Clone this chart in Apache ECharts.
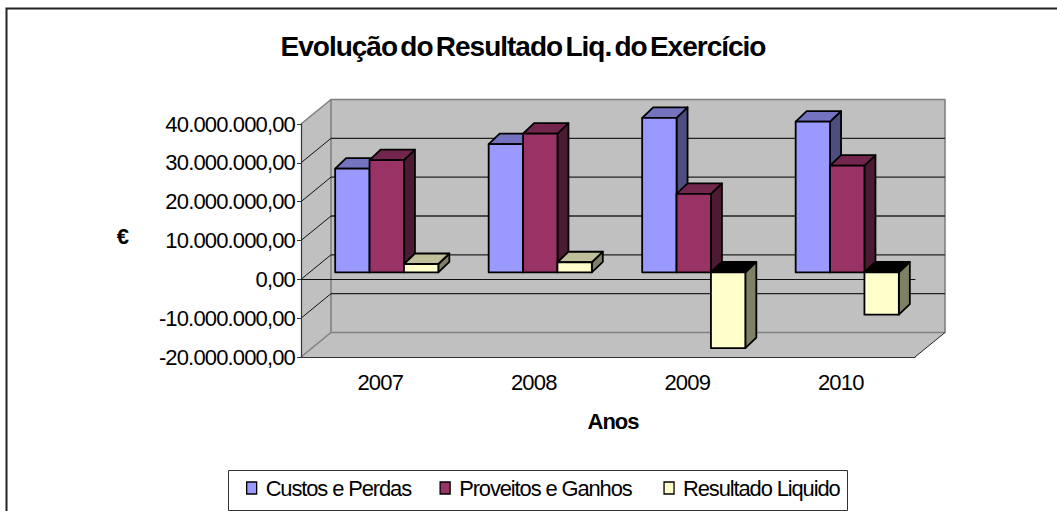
<!DOCTYPE html>
<html><head><meta charset="utf-8">
<style>
html,body{margin:0;padding:0;background:#fff;overflow:hidden}
#chart{width:1057px;height:511px}
#chart text{letter-spacing:-0.85px}
#chart text[style*="21.9px"]{letter-spacing:-1.1px}
#chart text[style*="bold"]{letter-spacing:-1px;word-spacing:-3.5px}
</style>
<script src="https://cdn.jsdelivr.net/npm/echarts@6/dist/echarts.min.js"></script>
</head><body><div id="chart"></div>
<script>
const categories = ['2007','2008','2009','2010'];
const custosPerdas = [26700000,33000000,39800000,38800000];
const proveitosGanhos = [28900000,35700000,20200000,27500000];
const resultadoLiquido = [2150000,2600000,-19500000,-10900000];
const yTicks = [-20000000,-10000000,0,10000000,20000000,30000000,40000000];
const yTickLabels = ['-20.000.000,00','-10.000.000,00','0,00','10.000.000,00','20.000.000,00','30.000.000,00','40.000.000,00'];
const seriesNames = ['Custos e Perdas','Proveitos e Ganhos','Resultado Liquido'];

const FONT = '"Liberation Sans", Arial, sans-serif';
const WALL = [30,-24.5], BAR = [11,-10.5], LIFT = [9,-7], BAR_RATIO = 0.224;
const palettes = [
  {front:'#9999FF',side:'#4D4D80',top:'#7373BF',under:'#000000'},
  {front:'#993366',side:'#4D1A33',top:'#73264D',under:'#000000'},
  {front:'#FFFFCC',side:'#808066',top:'#BFBF99',under:'#000000'}
];
function poly(points,fill,stroke,lw){
  return {type:'polygon',shape:{points},style:{fill,stroke,lineWidth:lw,lineJoin:'round'},silent:true};
}
function seg(a,b,stroke,lw){
  return {type:'line',shape:{x1:a[0],y1:a[1],x2:b[0],y2:b[1]},style:{stroke,lineWidth:lw},silent:true};
}
function shift(p,d){return [p[0]+d[0],p[1]+d[1]];}

function renderWalls(params,api){
  const band = api.size([1,0])[0];
  const n = categories.length;
  const edges = v => [
    [api.coord([0,v])[0]-band/2, api.coord([0,v])[1]],
    [api.coord([n-1,v])[0]+band/2, api.coord([0,v])[1]]
  ];
  const v = api.value(0);
  const [l,r] = edges(v);
  const kids = [];
  if(params.dataIndex===0){
    const [tl,tr] = edges(yTicks[yTicks.length-1]);
    const [bl,br] = edges(yTicks[0]);
    kids.push(poly([tl,shift(tl,WALL),shift(bl,WALL),bl],'#C0C0C0','none',0));
    kids.push(poly([bl,shift(bl,WALL),shift(br,WALL),br],'#C0C0C0','none',0));
    kids.push(poly([shift(tl,WALL),shift(tr,WALL),shift(br,WALL),shift(bl,WALL)],'#C0C0C0','#808080',1.6));
    kids.push(seg(tl,shift(tl,WALL),'#808080',1.6));
    kids.push(seg(bl,shift(bl,WALL),'#808080',1.6));
    kids.push(seg(br,shift(br,WALL),'#222222',1));
  }
  if(v!==yTicks[0] && v!==yTicks[yTicks.length-1]){
    kids.push(seg(l,shift(l,WALL),'#111111',1));
    kids.push(seg(shift(l,WALL),shift(r,WALL),'#222222',1.3));
  }
  return {type:'group',children:kids};
}
function renderBar(k){
  const c = palettes[k];
  return function(params,api){
    const band = api.size([1,0])[0], w = band*BAR_RATIO;
    const base = api.coord([api.value(0),0]), tip = api.coord([api.value(0),api.value(1)]);
    const x0 = base[0]+LIFT[0]+(k-1.5)*w, x1 = x0+w;
    const y0 = base[1]+LIFT[1], yv = tip[1]+LIFT[1];
    const up = Math.min(y0,yv), dn = Math.max(y0,yv);
    const neg = api.value(1)<0;
    const lw = 1.8, ink = '#000000';
    return {type:'group',children:[
      poly([[x1,up],shift([x1,up],BAR),shift([x1,dn],BAR),[x1,dn]],c.side,ink,lw),
      poly([[x0,up],shift([x0,up],BAR),shift([x1,up],BAR),[x1,up]],neg?c.under:c.top,ink,lw),
      poly([[x0,up],[x1,up],[x1,dn],[x0,dn]],c.front,ink,lw)
    ]};
  };
}
const toData = arr => arr.map((v,i)=>[i,v]);
const axisGrey = '#333333';
const option = {
  animation:false,
  backgroundColor:'#ffffff',
  textStyle:{fontFamily:FONT},
  title:{text:'Evolução do Resultado Liq. do Exercício',left:518,top:27,textAlign:'center',
    textStyle:{fontFamily:FONT,fontSize:28,fontWeight:'bold',color:'#000'}},
  grid:{left:301,top:124,width:614,height:233,containLabel:false},
  legend:{
    left:246,top:477,itemWidth:10,itemHeight:12,itemGap:12,padding:0,selectedMode:false,
    data:[
      {name:seriesNames[0],icon:'rect',itemStyle:{color:palettes[0].front,borderColor:'#000',borderWidth:1.3}},
      {name:seriesNames[1],icon:'rect',itemStyle:{color:palettes[1].front,borderColor:'#000',borderWidth:1.3}},
      {name:seriesNames[2],icon:'rect',itemStyle:{color:palettes[2].front,borderColor:'#000',borderWidth:1.3}}
    ],
    textStyle:{fontFamily:FONT,fontSize:21.9,color:'#000',padding:[0,0,0,4]}
  },
  xAxis:[
    {type:'category',data:categories,position:'bottom',
     axisLine:{onZero:false,lineStyle:{color:axisGrey,width:1}},
     axisTick:{length:6,lineStyle:{color:axisGrey}},
     axisLabel:{fontFamily:FONT,fontSize:22,color:'#000',margin:14,padding:[0,0,0,5]},
     name:'Anos',nameLocation:'middle',nameGap:53,
     nameTextStyle:{fontFamily:FONT,fontSize:22,fontWeight:'bold',color:'#000',padding:[0,0,0,10]}},
    {type:'category',data:categories,position:'bottom',
     axisLine:{onZero:true,lineStyle:{color:'#111',width:1}},
     axisTick:{length:6,lineStyle:{color:'#111'}},
     axisLabel:{show:false}}
  ],
  yAxis:{type:'value',min:-20000000,max:40000000,interval:10000000,
    axisLine:{show:true,lineStyle:{color:axisGrey,width:1.2}},
    axisTick:{show:true,length:4,lineStyle:{color:axisGrey}},
    splitLine:{show:false},
    axisLabel:{fontFamily:FONT,fontSize:22,color:'#000',margin:6,padding:[0,0,2,0],
      formatter:v=>yTickLabels[yTicks.indexOf(v)]},
    name:'€',nameLocation:'middle',nameRotate:0,nameGap:173,
    nameTextStyle:{fontFamily:FONT,fontSize:22,fontWeight:'bold',color:'#000',verticalAlign:'bottom',lineHeight:9}
  },
  graphic:[
    {type:'polyline',shape:{points:[[6.5,511],[6.5,8.5],[1057,8.5]]},style:{stroke:'#222',lineWidth:2,fill:'none'},silent:true},
    {type:'rect',shape:{x:228.5,y:470.5,width:619,height:40},style:{stroke:'#333',lineWidth:1,fill:'none'},silent:true}
  ],
  series:[
    {type:'custom',name:'walls',z:-1,silent:true,data:yTicks.map(v=>[v]),
     encode:{y:0},renderItem:renderWalls,tooltip:{show:false}},
    ...seriesNames.map((name,k)=>({
      type:'custom',name,z:3+k,
      data:toData([custosPerdas,proveitosGanhos,resultadoLiquido][k]),
      encode:{x:0,y:1},renderItem:renderBar(k),
      itemStyle:{color:palettes[k].front}
    }))
  ]
};
const chart = echarts.init(document.getElementById('chart'),null,{renderer:'svg',width:1057,height:511});
chart.setOption(option);
</script></body></html>
